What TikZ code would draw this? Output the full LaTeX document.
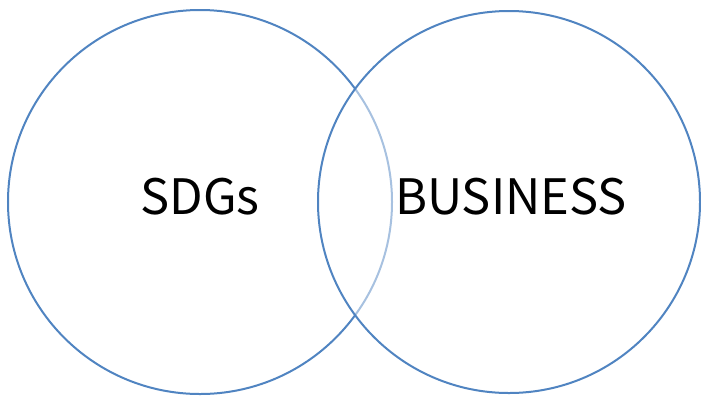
\documentclass[tikz,border=0pt]{standalone}
\usepackage{fontspec}
\setmainfont{Noto Sans CJK JP}
\definecolor{setblue}{RGB}{80,132,193}
\begin{document}
\begin{tikzpicture}[x=1bp,y=-1bp,
  set circle/.style={circle,draw=setblue,line width=2bp,inner sep=0pt},
  set label/.style={font=\fontsize{49}{56}\selectfont,inner sep=0pt,anchor=center}]

  \useasboundingbox (0,0) rectangle (701,396);

  \node[set circle,minimum size=384bp] (sdgs) at (200,202) {};
  \node[set circle,minimum size=382bp,fill=white,fill opacity=0.5,draw opacity=1] (business) at (509,202) {};

  \node[set label] (sdgs text) at (200,197) {SDGs};
  \node[set label] (business text) at (511,197) {BUSINESS};
\end{tikzpicture}
\end{document}
